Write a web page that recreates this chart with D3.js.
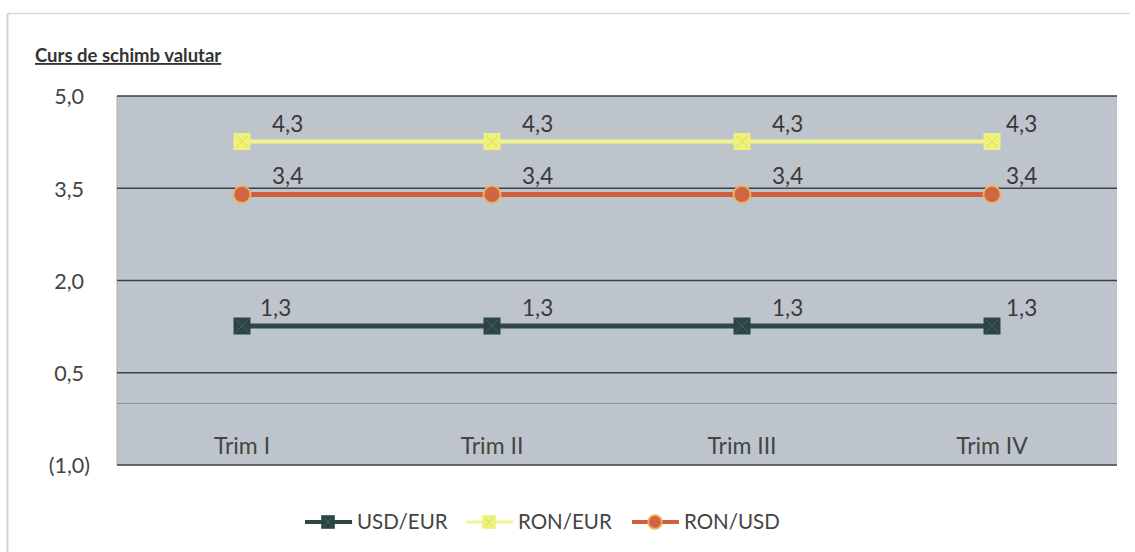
<!DOCTYPE html>
<html>
<head>
<meta charset="utf-8">
<script src="https://cdn.jsdelivr.net/npm/d3@7/dist/d3.min.js"></script>
<style>
  html, body { margin: 0; padding: 0; background: #fff; }
  svg { display: block; font-family: Lato, "Open Sans", sans-serif; }
</style>
</head>
<body>
<svg id="chart" width="1135" height="552"></svg>
<script>
const title = "Curs de schimb valutar";
const categories = ["Trim I", "Trim II", "Trim III", "Trim IV"];
const seriesNames = ["USD/EUR", "RON/EUR", "RON/USD"];
const usdEur = [1.26, 1.26, 1.26, 1.26];
const ronEur = [4.26, 4.26, 4.26, 4.26];
const ronUsd = [3.40, 3.40, 3.40, 3.40];
const yTicks = [-1, 0.5, 2, 3.5, 5];

const series = [
  { name: seriesNames[0], values: usdEur, line: "#2f4746", marker: "square", fill: "#2c4544", stroke: "#2c4544", width: 5 },
  { name: seriesNames[1], values: ronEur, line: "#f2f48e", marker: "squarex", fill: "#eef27a", stroke: "#eef27a", width: 4 },
  { name: seriesNames[2], values: ronUsd, line: "#cf5f3f", marker: "circle", fill: "#cf6446", stroke: "#eeb35a", width: 5 }
];

const FONT = "Lato, 'Open Sans', sans-serif";
const svg = d3.select("#chart");
const plot = { left: 117, right: 1117, top: 96, bottom: 465 };

// outer frame (top and left edges only visible)
svg.append("line").attr("x1", 7.5).attr("x2", 1130).attr("y1", 13.5).attr("y2", 13.5)
  .attr("stroke", "#d6d9dc").attr("stroke-width", 1.5);
svg.append("line").attr("x1", 7.5).attr("x2", 7.5).attr("y1", 13.5).attr("y2", 552)
  .attr("stroke", "#d0d4d8").attr("stroke-width", 2);

// title
svg.append("text").attr("x", 35).attr("y", 62)
  .attr("font-size", 18.5).attr("font-weight", "bold").attr("fill", "#333")
  .attr("text-decoration", "underline")
  .style("font-family", FONT)
  .text(title);

const x = d3.scaleBand().domain(categories).range([plot.left, plot.right]);
const y = d3.scaleLinear().domain([-1, 5]).range([plot.bottom, plot.top]);
const cx = c => x(c) + x.bandwidth() / 2;

// plot background
svg.append("rect").attr("x", plot.left).attr("y", plot.top)
  .attr("width", plot.right - plot.left).attr("height", plot.bottom - plot.top)
  .attr("fill", "#bec4cb");
svg.append("line").attr("x1", plot.left).attr("x2", plot.left).attr("y1", plot.top).attr("y2", plot.bottom)
  .attr("stroke", "#a9aeb4").attr("stroke-width", 1);

const fmt = v => {
  const s = Math.abs(v).toFixed(1).replace(".", ",");
  return v < 0 ? "(" + s + ")" : s;
};

// y axis labels
const yAxis = d3.axisLeft(y).tickValues(yTicks).tickFormat(fmt).tickSize(0).tickPadding(0);
const yg = svg.append("g").attr("transform", "translate(90,0)").call(yAxis);
yg.select(".domain").remove();
yg.selectAll("text").attr("font-size", 21.5).attr("fill", "#444")
  .style("font-family", FONT).attr("dy", "0.36em")
  .attr("dx", d => d < 0 ? 0 : -6);

// grid lines
svg.append("g").selectAll("line").data(yTicks).join("line")
  .attr("x1", plot.left).attr("x2", plot.right)
  .attr("y1", d => y(d)).attr("y2", d => y(d))
  .attr("stroke", "#3c4146").attr("stroke-width", 1.5);
// zero line
svg.append("line").attr("x1", plot.left).attr("x2", plot.right)
  .attr("y1", y(0)).attr("y2", y(0))
  .attr("stroke", "#8c9197").attr("stroke-width", 1);

// category labels
const xAxis = d3.axisBottom(x).tickSize(0).tickPadding(0);
const xg = svg.append("g").attr("transform", "translate(0,446)").call(xAxis);
xg.select(".domain").remove();
xg.selectAll("text").attr("font-size", 23).attr("fill", "#444")
  .style("font-family", FONT).attr("dy", "0.35em");

function drawMarker(g, s, px, py, scale) {
  const k = scale || 1;
  if (s.marker === "square") {
    const h = 8.5 * k;
    g.append("rect").attr("x", px - h).attr("y", py - h).attr("width", 2 * h).attr("height", 2 * h)
      .attr("fill", s.fill);
    g.append("path").attr("d", `M${px - h + 2},${py - h + 2}L${px + h - 2},${py + h - 2}M${px + h - 2},${py - h + 2}L${px - h + 2},${py + h - 2}`)
      .attr("stroke", "#3f6160").attr("stroke-width", 1);
  } else if (s.marker === "squarex") {
    const h = 8.5 * k;
    g.append("rect").attr("x", px - h).attr("y", py - h).attr("width", 2 * h).attr("height", 2 * h)
      .attr("fill", s.fill);
    g.append("path").attr("d", `M${px - h + 3},${py - h + 3}L${px + h - 3},${py + h - 3}M${px + h - 3},${py - h + 3}L${px - h + 3},${py + h - 3}`)
      .attr("stroke", "#d9de5a").attr("stroke-width", 1);
  } else {
    g.append("circle").attr("cx", px).attr("cy", py).attr("r", 8.5 * k)
      .attr("fill", s.fill).attr("stroke", s.stroke).attr("stroke-width", 1.8);
  }
}

const line = d3.line().x((d, i) => cx(categories[i])).y(d => y(d));
series.forEach(s => {
  const g = svg.append("g");
  g.append("path").datum(s.values).attr("d", line)
    .attr("fill", "none").attr("stroke", s.line).attr("stroke-width", s.width);
  s.values.forEach((v, i) => drawMarker(g, s, cx(categories[i]), y(v)));
  g.selectAll("text").data(s.values).join("text")
    .attr("x", (d, i) => cx(categories[i]) + (i === categories.length - 1 ? 14 : (s.marker === "square" && i === 0 ? 18 : 30)))
    .attr("y", d => y(d) - 10)
    .attr("font-size", 22.5).attr("fill", "#3a3a3a")
    .style("font-family", FONT)
    .text(d => d.toFixed(1).replace(".", ","));
});

// legend
const legendX = [305, 466, 632];
const legendY = 522;
series.forEach((s, i) => {
  const g = svg.append("g");
  const x0 = legendX[i];
  g.append("line").attr("x1", x0).attr("x2", x0 + 47).attr("y1", legendY).attr("y2", legendY)
    .attr("stroke", s.line).attr("stroke-width", s.width - 1);
  drawMarker(g, s, x0 + 23, legendY, 0.8);
  g.append("text").attr("x", x0 + 52).attr("y", legendY).attr("dy", "0.36em")
    .attr("font-size", 20.5).attr("fill", "#444")
    .style("font-family", FONT)
    .text(s.name);
});
</script>
</body>
</html>
